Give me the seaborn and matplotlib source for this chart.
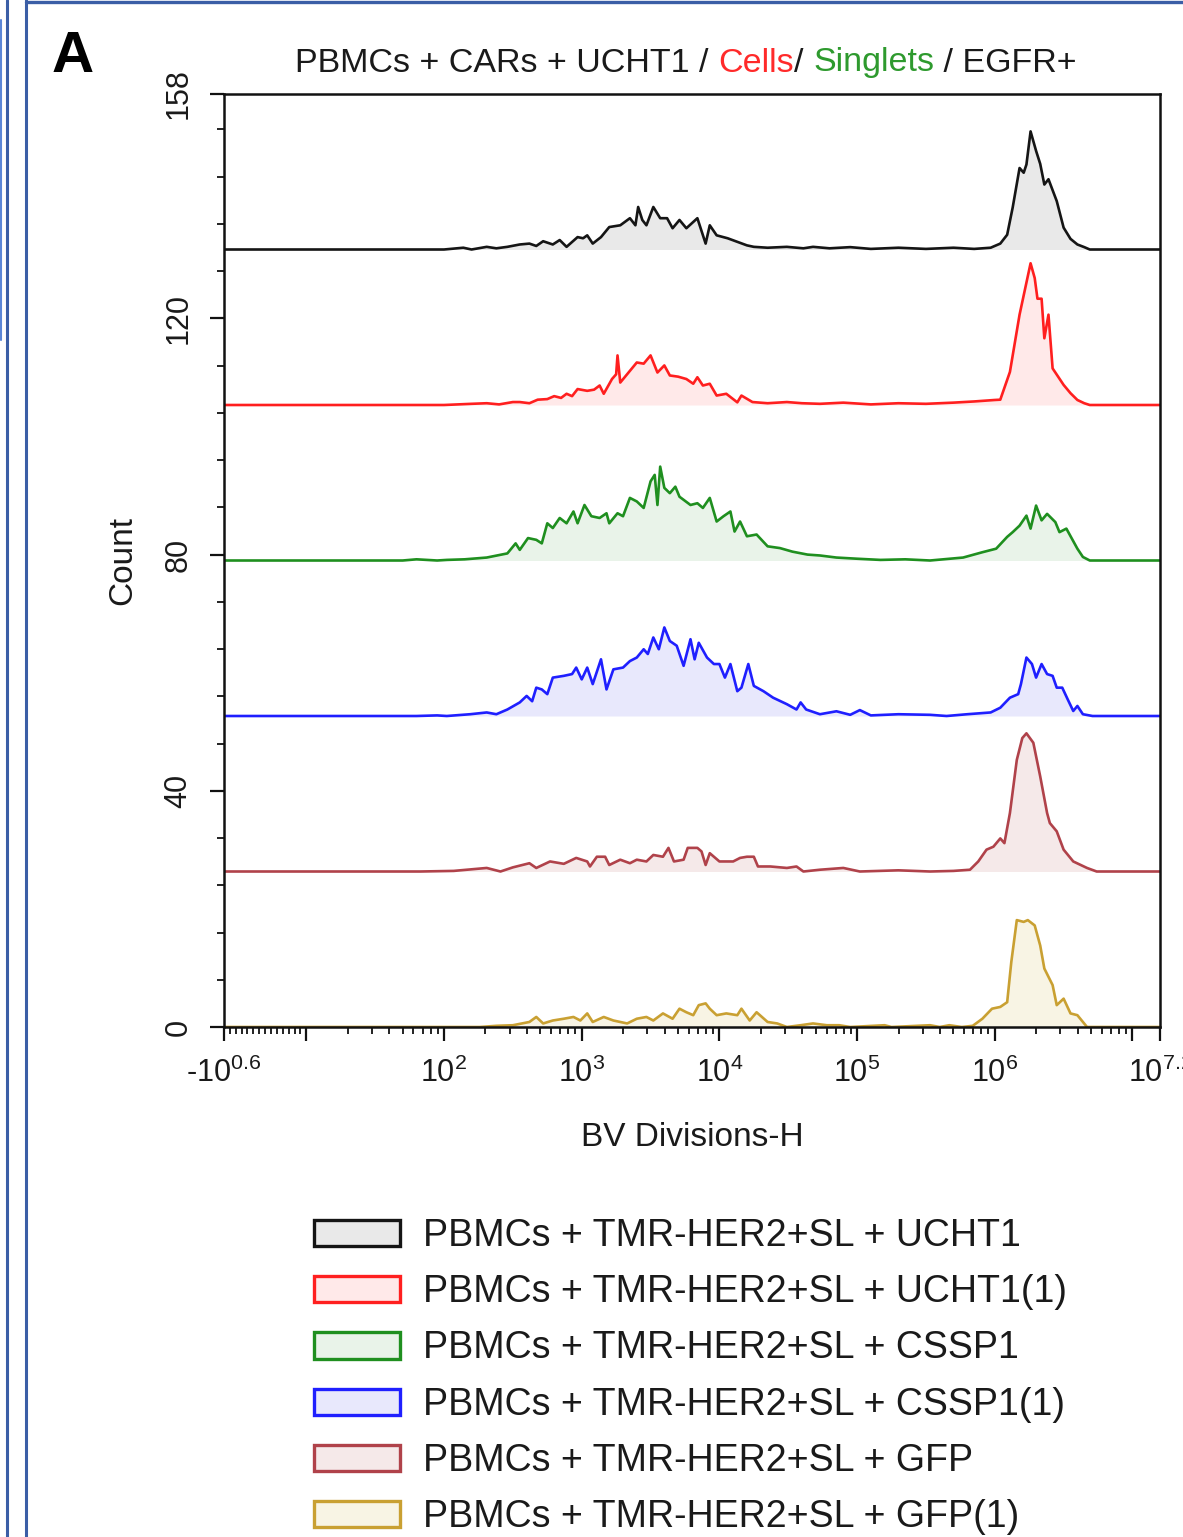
import numpy as np
import pandas as pd
import matplotlib
matplotlib.use("Agg")
import matplotlib.pyplot as plt
import seaborn as sns
from matplotlib.patches import Patch
from matplotlib.lines import Line2D
from matplotlib.offsetbox import TextArea, HPacker, AnchoredOffsetbox
from matplotlib.ticker import FixedLocator, MultipleLocator

# ---------------------------------------------------------------- data
# Each histogram: (log10 of BV Divisions-H, count) pairs
UCHT1 = [(2.00, 0), (2.14, 0.3), (2.20, 0), (2.31, 0.45), (2.38, 0.2), (2.46, 0.45), (2.55, 0.85),
         (2.62, 1.0), (2.67, 0.6), (2.72, 1.4), (2.79, 0.85), (2.84, 1.6), (2.89, 0.45), (2.97, 2.1),
         (3.01, 1.9), (3.04, 2.4), (3.08, 1.0), (3.14, 2.1), (3.20, 3.8), (3.28, 4.1), (3.35, 5.3),
         (3.39, 4.1), (3.41, 7.2), (3.44, 5.0), (3.47, 4.1), (3.52, 7.2), (3.57, 5.3), (3.62, 5.3),
         (3.66, 3.6), (3.71, 5.0), (3.76, 3.6), (3.84, 5.3), (3.90, 1.0), (3.93, 4.1), (3.98, 2.4),
         (4.06, 1.9), (4.13, 1.3), (4.20, 0.7), (4.25, 0.45), (4.35, 0.3), (4.49, 0.45), (4.61, 0.2),
         (4.68, 0.45), (4.80, 0.2), (4.95, 0.4), (5.10, 0.1), (5.30, 0.3), (5.50, 0.1), (5.70, 0.3),
         (5.85, 0.1), (5.97, 0.3), (6.04, 1.0), (6.09, 2.5), (6.13, 7.1), (6.18, 13.8), (6.21, 13.0),
         (6.23, 14.4), (6.26, 20.0), (6.30, 16.7), (6.33, 14.5), (6.36, 11.0), (6.39, 11.9),
         (6.45, 8.2), (6.50, 3.7), (6.55, 1.8), (6.60, 0.85), (6.65, 0.4), (6.69, 0)]

UCHT1_1 = [(2.00, 0), (2.20, 0.2), (2.31, 0.3), (2.40, 0.1), (2.50, 0.5), (2.55, 0.5), (2.62, 0.3),
           (2.68, 0.9), (2.75, 1.0), (2.80, 1.5), (2.85, 1.2), (2.89, 1.9), (2.93, 1.5), (2.97, 2.7),
           (3.04, 2.4), (3.09, 2.6), (3.13, 3.3), (3.16, 1.9), (3.22, 4.4), (3.25, 5.2), (3.26, 8.4),
           (3.28, 3.8), (3.34, 5.5), (3.40, 7.2), (3.45, 7.0), (3.50, 8.4), (3.55, 5.5), (3.60, 6.7),
           (3.64, 5.0), (3.70, 4.8), (3.76, 4.4), (3.81, 3.6), (3.84, 4.7), (3.88, 3.3), (3.93, 3.6),
           (3.98, 1.6), (4.05, 1.9), (4.13, 0.45), (4.16, 1.6), (4.24, 0.5), (4.35, 0.3), (4.49, 0.5),
           (4.60, 0.3), (4.73, 0.2), (4.90, 0.4), (5.10, 0.1), (5.30, 0.3), (5.50, 0.2), (5.70, 0.4),
           (5.85, 0.6), (6.00, 0.85), (6.04, 0.9), (6.11, 5.6), (6.18, 15.3), (6.26, 24.0),
           (6.29, 21.5), (6.31, 18.0), (6.34, 18.0), (6.36, 11.3), (6.39, 15.3), (6.42, 6.2),
           (6.50, 3.4), (6.55, 2.0), (6.60, 0.85), (6.65, 0.3), (6.69, 0)]

CSSP1 = [(1.70, 0), (1.80, 0.2), (1.95, 0.0), (2.02, 0.1), (2.15, 0.2), (2.31, 0.5), (2.46, 1.2),
         (2.52, 2.9), (2.55, 1.8), (2.61, 3.8), (2.67, 3.5), (2.71, 2.9), (2.75, 6.3), (2.79, 5.5),
         (2.84, 7.2), (2.89, 6.3), (2.94, 8.3), (2.97, 6.3), (3.02, 9.4), (3.07, 7.5), (3.13, 7.2),
         (3.18, 8.0), (3.20, 6.3), (3.26, 8.0), (3.30, 7.5), (3.35, 10.6), (3.40, 10.0), (3.45, 8.9),
         (3.50, 13.4), (3.53, 14.5), (3.55, 9.4), (3.57, 15.9), (3.60, 12.3), (3.64, 11.4),
         (3.68, 12.5), (3.71, 10.8), (3.79, 9.4), (3.84, 9.7), (3.88, 8.9), (3.93, 10.6), (3.98, 6.6),
         (4.03, 7.5), (4.08, 8.3), (4.11, 4.9), (4.15, 6.6), (4.20, 4.1), (4.27, 4.4), (4.35, 2.4),
         (4.44, 2.1), (4.53, 1.5), (4.64, 1.0), (4.73, 0.85), (4.85, 0.5), (5.00, 0.3), (5.17, 0.1),
         (5.35, 0.2), (5.53, 0), (5.77, 0.5), (5.91, 1.4), (6.01, 2.0), (6.09, 4.0), (6.13, 4.8),
         (6.18, 5.9), (6.23, 7.6), (6.26, 5.4), (6.30, 9.3), (6.34, 6.8), (6.38, 7.9), (6.44, 6.5),
         (6.47, 4.8), (6.52, 5.4), (6.60, 2.0), (6.64, 0.6), (6.69, 0)]

CSSP1_1 = [(1.80, 0), (1.95, 0.1), (2.02, 0), (2.19, 0.3), (2.31, 0.6), (2.38, 0.3), (2.46, 1.1),
           (2.55, 2.3), (2.60, 3.4), (2.64, 2.5), (2.67, 4.8), (2.71, 4.5), (2.75, 3.7), (2.79, 6.5),
           (2.87, 6.8), (2.93, 7.1), (2.96, 8.2), (3.00, 6.2), (3.04, 8.2), (3.08, 5.4), (3.14, 9.6),
           (3.18, 4.5), (3.23, 7.9), (3.30, 8.2), (3.35, 9.3), (3.40, 9.9), (3.45, 11.3), (3.48, 10.5),
           (3.52, 13.3), (3.56, 11.3), (3.60, 15.0), (3.64, 12.7), (3.69, 11.9), (3.74, 8.5),
           (3.79, 13.0), (3.82, 9.6), (3.85, 12.4), (3.91, 9.9), (3.96, 8.8), (4.00, 8.8), (4.04, 6.5),
           (4.08, 8.8), (4.13, 4.2), (4.16, 4.8), (4.21, 8.8), (4.25, 5.1), (4.32, 4.2), (4.39, 3.1),
           (4.49, 2.0), (4.56, 1.1), (4.59, 2.3), (4.63, 1.1), (4.73, 0.3), (4.85, 0.8), (4.95, 0.2),
           (5.02, 1.0), (5.10, 0.1), (5.30, 0.3), (5.53, 0.2), (5.65, 0), (5.80, 0.3), (5.97, 0.6),
           (6.04, 1.4), (6.11, 3.1), (6.17, 3.7), (6.19, 5.4), (6.23, 9.9), (6.27, 8.8), (6.30, 6.5),
           (6.34, 8.8), (6.38, 7.1), (6.42, 6.8), (6.45, 4.8), (6.49, 4.8), (6.53, 2.8), (6.57, 0.85),
           (6.60, 1.7), (6.64, 0.3), (6.71, 0)]

GFP = [(1.83, 0), (2.07, 0.1), (2.31, 0.6), (2.41, 0), (2.50, 0.7), (2.62, 1.4), (2.67, 0.6),
       (2.77, 1.7), (2.87, 1.3), (2.96, 2.3), (3.04, 1.7), (3.06, 0.85), (3.11, 2.5), (3.17, 2.5),
       (3.20, 1.1), (3.28, 2.0), (3.35, 1.4), (3.40, 2.0), (3.47, 1.7), (3.52, 2.8), (3.59, 2.5),
       (3.63, 4.0), (3.67, 1.7), (3.74, 2.0), (3.77, 4.0), (3.84, 4.0), (3.87, 3.4), (3.90, 1.1),
       (3.93, 3.1), (4.00, 1.7), (4.10, 1.7), (4.15, 2.3), (4.20, 2.5), (4.25, 2.5), (4.28, 0.85),
       (4.37, 0.85), (4.49, 0.6), (4.56, 0.85), (4.61, 0), (4.73, 0.3), (4.90, 0.6), (5.02, 0),
       (5.30, 0.2), (5.53, 0), (5.70, 0.1), (5.82, 0.3), (5.88, 1.7), (5.94, 3.7), (5.99, 4.2),
       (6.04, 5.6), (6.07, 4.8), (6.11, 9.9), (6.16, 18.9), (6.20, 22.6), (6.23, 23.4), (6.28, 21.8),
       (6.33, 16.1), (6.38, 9.9), (6.40, 8.2), (6.45, 6.8), (6.50, 3.7), (6.57, 1.7), (6.67, 0.6),
       (6.74, 0)]

GFP_1 = [(2.26, 0), (2.38, 0.2), (2.50, 0.3), (2.62, 0.85), (2.67, 1.7), (2.72, 0.6), (2.79, 1.1),
         (2.87, 1.4), (2.94, 1.7), (2.99, 1.1), (3.04, 2.3), (3.08, 0.85), (3.16, 1.7), (3.23, 1.1),
         (3.33, 0.6), (3.40, 1.4), (3.47, 1.7), (3.52, 1.1), (3.59, 2.3), (3.66, 1.4), (3.71, 3.1),
         (3.76, 2.5), (3.81, 2.0), (3.85, 3.7), (3.90, 4.0), (3.93, 3.1), (3.98, 2.0), (4.05, 2.3),
         (4.13, 2.0), (4.16, 3.1), (4.22, 1.1), (4.27, 2.5), (4.35, 0.85), (4.42, 0.6), (4.49, 0),
         (4.59, 0.3), (4.68, 0.6), (4.78, 0.3), (4.87, 0.3), (4.95, 0), (5.20, 0.3), (5.25, 0),
         (5.53, 0.3), (5.60, 0), (5.67, 0.3), (5.76, 0), (5.84, 0.2), (5.91, 1.4), (5.98, 3.1),
         (6.04, 3.4), (6.09, 4.2), (6.12, 11.0), (6.16, 18.1), (6.21, 17.8), (6.24, 18.1),
         (6.29, 17.2), (6.33, 13.8), (6.36, 9.9), (6.42, 7.1), (6.45, 3.7), (6.50, 4.8), (6.55, 2.3),
         (6.60, 2.0), (6.67, 0)]

SAMPLES = ["PBMCs + TMR-HER2+SL + UCHT1", "PBMCs + TMR-HER2+SL + UCHT1(1)",
           "PBMCs + TMR-HER2+SL + CSSP1", "PBMCs + TMR-HER2+SL + CSSP1(1)",
           "PBMCs + TMR-HER2+SL + GFP", "PBMCs + TMR-HER2+SL + GFP(1)"]
HISTS = [UCHT1, UCHT1_1, CSSP1, CSSP1_1, GFP, GFP_1]
LINE_COLORS = ["#151515", "#ff1f1f", "#1f8f1f", "#1f1fff", "#b0424a", "#c9a032"]
FILL_COLORS = ["#e9e9e9", "#ffe9e9", "#e9f3e9", "#e8e8fc", "#f5e9e9", "#f8f4e4"]

Y_MAX = 158
X_MIN, X_MAX = -10 ** 0.6, 10 ** 7.2
Y_TICKS = [0, 40, 80, 120, 158]

# ---------------------------------------------------------------- style
sns.set_theme(style="ticks")
plt.rcParams["font.family"] = ["Liberation Sans", "DejaVu Sans"]
plt.rcParams["mathtext.fontset"] = "custom"
plt.rcParams["mathtext.rm"] = "Liberation Sans"
plt.rcParams["mathtext.it"] = "Liberation Sans:italic"
plt.rcParams["mathtext.bf"] = "Liberation Sans:bold"
plt.rcParams["axes.unicode_minus"] = False
TXT = "#1a1a1a"

W, H = 1183, 1537
fig = plt.figure(figsize=(W / 100, H / 100), dpi=100)
fig.patch.set_facecolor("white")
ax = fig.add_axes([224 / W, 1 - 1027 / H, (1160 - 224) / W, (1027 - 94) / H])

ax.set_xscale("symlog", linthresh=10, linscale=0.385)

# staggered (offset) histograms, top sample highest
step = Y_MAX / len(HISTS)
for i, (hist, lc, fc) in enumerate(zip(HISTS, LINE_COLORS, FILL_COLORS)):
    base = step * (len(HISTS) - 1 - i)
    logs, counts = zip(*hist)
    x = np.concatenate([[X_MIN], 10 ** np.array(logs), [X_MAX]])
    y = base + np.concatenate([[0.0], np.array(counts), [0.0]])
    df = pd.DataFrame({"BV": x, "Count": y})
    ax.fill_between(df["BV"], base, df["Count"], color=fc, linewidth=0, zorder=1)
    sns.lineplot(data=df, x="BV", y="Count", color=lc, linewidth=1.9,
                 estimator=None, sort=False, ax=ax, zorder=2)

ax.set_xlim(X_MIN, X_MAX)
ax.set_ylim(0, Y_MAX)

# x ticks
major_x = [X_MIN, 10, 1e2, 1e3, 1e4, 1e5, 1e6, 1e7, X_MAX]
major_lbl = [r"-$10^{0.6}$", "", r"$10^{2}$", r"$10^{3}$", r"$10^{4}$", r"$10^{5}$",
             r"$10^{6}$", "", r"$10^{7.2}$"]
ax.xaxis.set_major_locator(FixedLocator(major_x))
ax.set_xticklabels(major_lbl)
minor_x = [-3, -2, -1, 0, 1, 2, 3, 4, 5, 6, 7, 8, 9]
for d in range(1, 7):
    minor_x += [k * 10 ** d for k in range(2, 10)]
ax.xaxis.set_minor_locator(FixedLocator(minor_x))

# y ticks
ax.yaxis.set_major_locator(FixedLocator(Y_TICKS))
ax.set_yticklabels([str(t) for t in Y_TICKS], rotation=90, va="center")
ax.yaxis.set_minor_locator(MultipleLocator(8))

ax.tick_params(axis="both", which="major", direction="out", length=10, width=1.6,
               colors="#111111", labelcolor=TXT)
ax.tick_params(axis="both", which="minor", direction="out", length=5, width=1.3,
               colors="#111111")
ax.tick_params(axis="x", labelsize=22, pad=12)
ax.tick_params(axis="y", labelsize=22, pad=12)
for s in ax.spines.values():
    s.set_linewidth(1.8)
    s.set_color("#111111")

ax.set_xlabel("BV Divisions-H", fontsize=24, color=TXT, labelpad=24)
ax.set_ylabel("Count", fontsize=24, color=TXT, labelpad=18)

# gating path title with coloured gate names
parts = [("PBMCs + CARs + UCHT1 / ", TXT), ("Cells", "#ff2a2a"), ("/ ", TXT),
         ("Singlets", "#2e9a2e"), (" / EGFR+", TXT)]
boxes = [TextArea(t, textprops=dict(color=c, fontsize=24.5)) for t, c in parts]
title_box = AnchoredOffsetbox(loc="center", child=HPacker(children=boxes, align="baseline",
                                                          pad=0, sep=0),
                              pad=0, borderpad=0, frameon=False,
                              bbox_to_anchor=(686 / W, 1 - 63 / H),
                              bbox_transform=fig.transFigure)
fig.add_artist(title_box)

# panel letter
fig.text(52 / W, 1 - 72 / H, "A", fontsize=42, fontweight="bold", color="black",
         ha="left", va="baseline")

# legend
handles = [Patch(facecolor=fc, edgecolor=lc, linewidth=2.4)
           for lc, fc in zip(LINE_COLORS, FILL_COLORS)]
leg = fig.legend(handles, SAMPLES, loc="upper left", bbox_to_anchor=(314 / W, 1 - 1218 / H),
                 frameon=False, fontsize=27, handlelength=2.3, handleheight=0.7,
                 handletextpad=0.6, labelspacing=0.54, borderpad=0, borderaxespad=0)
for t in leg.get_texts():
    t.set_color(TXT)

# page frame
frame_c = "#3b5ea6"
fig.add_artist(Line2D([7 / W, 7 / W], [0, 1], color=frame_c, linewidth=2.2))
fig.add_artist(Line2D([26 / W, 26 / W], [0, 1], color=frame_c, linewidth=2.2))
fig.add_artist(Line2D([26 / W, 1], [1 - 2 / H, 1 - 2 / H], color=frame_c, linewidth=2.4))
fig.add_artist(Line2D([1 / W, 1 / W], [1 - 20 / H, 1 - 340 / H], color="#5b86d6", linewidth=1.5))

fig.savefig("out.png", dpi=100, facecolor="white")
